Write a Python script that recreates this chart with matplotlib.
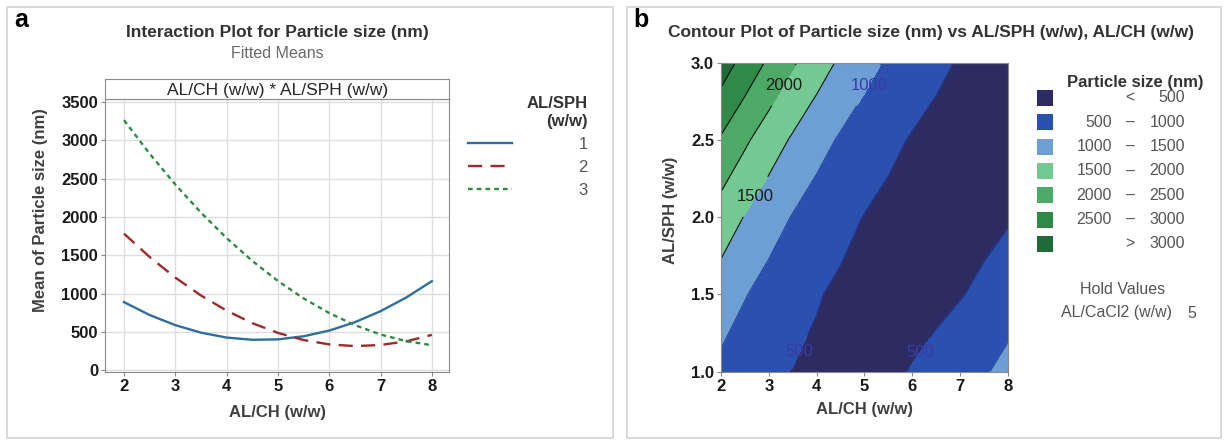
import matplotlib
matplotlib.use('Agg')
import matplotlib.pyplot as plt
import numpy as np
from matplotlib.patches import Rectangle

plt.rcParams['font.family'] = ['Liberation Sans', 'DejaVu Sans']

# AL/CH (w/w) values along the x axis
al_ch = [2.0, 2.5, 3.0, 3.5, 4.0, 4.5, 5.0, 5.5, 6.0, 6.5, 7.0, 7.5, 8.0]

# fitted means of particle size (nm), one list per AL/SPH level
sph_levels = ['1', '2', '3']
mean_sph1 = [888, 720, 588, 490, 426, 397, 402, 443, 517, 626, 770, 948, 1161]
mean_sph2 = [1781, 1477, 1208, 975, 777, 614, 487, 394, 337, 315, 329, 377, 461]
mean_sph3 = [3261, 2824, 2422, 2055, 1723, 1426, 1164, 937, 745, 588, 466, 379, 327]

# contour surface (AL/CaCl2 held at 5), rows along AL/SPH
al_sph = [1.0, 1.5, 2.0, 2.5, 3.0]
size_sph15 = [1261, 1025, 824, 658, 527, 431, 371, 345, 354, 398, 477, 591, 740]
size_sph25 = [2448, 2077, 1741, 1441, 1176, 946, 752, 592, 468, 379, 325, 306, 323]

# contour bands
band_edges = [0, 500, 1000, 1500, 2000, 2500, 3000, 4000]
band_colors = ['#2c2c62', '#2a50b0', '#6d9fd5', '#74c892', '#4caa66', '#2f8a48', '#1f6b37']

W, H = 1225.0, 440.0
def fx(px):
    return px / W
def fy(py):
    return 1 - py / H

fig = plt.figure(figsize=(12.25, 4.4), dpi=100)

# panel frames
for x0, x1 in [(7, 613), (627, 1221)]:
    fig.patches.append(Rectangle((fx(x0), fy(438)), fx(x1) - fx(x0), fy(7) - fy(438),
                                 transform=fig.transFigure, fill=False,
                                 edgecolor='#d6d6d6', linewidth=1.3))

grey = '#8a8a8a'

##########################
# panel a: interaction   #
##########################
ax1 = fig.add_axes([fx(105), fy(372.3), fx(449.3) - fx(105), fy(99.3) - fy(372.3)])
ax1.plot(al_ch, mean_sph1, color='#2f6da3', lw=1.7, ls='-')
ax1.plot(al_ch, mean_sph2, color='#9e2a2b', lw=1.7, ls=(0, (6, 3.5)))
ax1.plot(al_ch, mean_sph3, color='#2e8b43', lw=1.7, ls=(0, (2, 1.7)))
ax1.set_xlim(1.63, 8.34)
ax1.set_ylim(-27, 3533)
ax1.set_xticks(range(2, 9))
ax1.set_yticks(range(0, 3501, 500))
ax1.grid(color='#dedede', lw=1)
ax1.set_axisbelow(True)
for sp in ax1.spines.values():
    sp.set_color(grey)
ax1.tick_params(direction='out', length=3, color=grey, labelsize=12, pad=2, labelcolor='#1a1a1a')
for lab in ax1.get_xticklabels() + ax1.get_yticklabels():
    lab.set_fontweight('bold')
ax1.set_xlabel('AL/CH (w/w)', fontsize=12, fontweight='bold', color='#404040', labelpad=8)

# header strip
axh = fig.add_axes([fx(105), fy(99.3), fx(449.3) - fx(105), fy(79) - fy(99.3)])
axh.set_xticks([])
axh.set_yticks([])
for sp in axh.spines.values():
    sp.set_color(grey)
axh.text(0.5, 0.45, 'AL/CH (w/w) * AL/SPH (w/w)', transform=axh.transAxes,
         ha='center', va='center', fontsize=12.5, color='#262626')

fig.text(fx(40), fy(210), 'Mean of Particle size (nm)', rotation=90, ha='center', va='center',
         fontsize=12, fontweight='bold', color='#404040')
fig.text(fx(14), fy(20), 'a', fontsize=18, fontweight='bold', ha='left', va='center')
fig.text(fx(277), fy(32), 'Interaction Plot for Particle size (nm)', fontsize=12.5,
         fontweight='bold', color='#333333', ha='center', va='center')
fig.text(fx(277), fy(53), 'Fitted Means', fontsize=11.5, color='#6a6a6a', ha='center', va='center')

leg = fig.legend(ax1.get_lines(), sph_levels, loc='upper right', bbox_to_anchor=(fx(596), fy(88)),
                 frameon=False, title='AL/SPH\n(w/w)', alignment='right',
                 title_fontproperties={'weight': 'bold', 'size': 12}, fontsize=12,
                 handlelength=2.6, handletextpad=4.0, labelspacing=0.48, borderpad=0)
for t in leg.get_texts():
    t.set_color('#555555')
leg.get_title().set_color('#333333')
leg.get_title().set_multialignment('right')

##########################
# panel b: contour       #
##########################
ax2 = fig.add_axes([fx(721), fy(371.7), fx(1008) - fx(721), fy(62.7) - fy(371.7)])
X, Y = np.meshgrid(al_ch, al_sph)
Z = np.array([mean_sph1, size_sph15, mean_sph2, size_sph25, mean_sph3])
ax2.contourf(X, Y, Z, levels=band_edges, colors=band_colors)
line_cols = ['#26307f', '#2440a0', '#111111', '#111111', '#111111', '#111111']
cs = ax2.contour(X, Y, Z, levels=band_edges[1:-1], colors=line_cols, linewidths=0.8)
lbls = ax2.clabel(cs, levels=[500, 1000, 1500, 2000], fmt='%d', fontsize=12,
                  colors=['#3a3aa8', '#3a3aa8', '#1a1a1a', '#1a1a1a'], inline=True,
                  manual=[(3.7, 1.12), (6.18, 1.12), (5.08, 2.855), (2.73, 2.13), (3.29, 2.855)])
for t in lbls:
    t.set_rotation(0)
ax2.set_xlim(2, 8)
ax2.set_ylim(1, 3)
ax2.set_xticks(range(2, 9))
ax2.set_yticks([1.0, 1.5, 2.0, 2.5, 3.0])
ax2.set_yticklabels(['%.1f' % v for v in [1.0, 1.5, 2.0, 2.5, 3.0]])
for sp in ax2.spines.values():
    sp.set_color(grey)
ax2.tick_params(direction='out', length=3, color=grey, labelsize=12, pad=2, labelcolor='#1a1a1a')
for lab in ax2.get_xticklabels() + ax2.get_yticklabels():
    lab.set_fontweight('bold')
ax2.set_xlabel('AL/CH (w/w)', fontsize=12, fontweight='bold', color='#404040', labelpad=6)
fig.text(fx(670), fy(210), 'AL/SPH (w/w)', rotation=90, ha='center', va='center',
         fontsize=12, fontweight='bold', color='#404040')
fig.text(fx(633), fy(20), 'b', fontsize=18, fontweight='bold', ha='left', va='center')
fig.text(fx(931), fy(32), 'Contour Plot of Particle size (nm) vs AL/SPH (w/w), AL/CH (w/w)',
         fontsize=12.5, fontweight='bold', color='#333333', ha='center', va='center')

# legend of contour bands
fig.text(fx(1135), fy(82), 'Particle size (nm)', fontsize=12, fontweight='bold',
         color='#333333', ha='center', va='center')
row0, drow = 98, 24.3
for i, c in enumerate(band_colors):
    yy = row0 + i * drow
    fig.patches.append(Rectangle((fx(1037), fy(yy + 8)), fx(16), 16 / H,
                                 transform=fig.transFigure, facecolor=c, edgecolor='none'))
    lo, hi = band_edges[i], band_edges[i + 1]
    if i == 0:
        left, sym, right = '', '<', str(hi)
    elif i == len(band_colors) - 1:
        left, sym, right = '', '>', str(lo)
    else:
        left, sym, right = str(lo), '\u2013', str(hi)
    kw = dict(fontsize=11.5, color='#555555', va='center')
    fig.text(fx(1112), fy(yy), left, ha='right', **kw)
    fig.text(fx(1130), fy(yy), sym, ha='center', **kw)
    fig.text(fx(1185), fy(yy), right, ha='right', **kw)

fig.text(fx(1123), fy(290), 'Hold Values', fontsize=11.5, color='#555555', ha='center', va='center')
fig.text(fx(1172), fy(313), 'AL/CaCl2 (w/w)', fontsize=11.5, color='#555555', ha='right', va='center')
fig.text(fx(1192), fy(313), '5', fontsize=11.5, color='#555555', ha='center', va='center')

fig.savefig('out.png', dpi=100)
